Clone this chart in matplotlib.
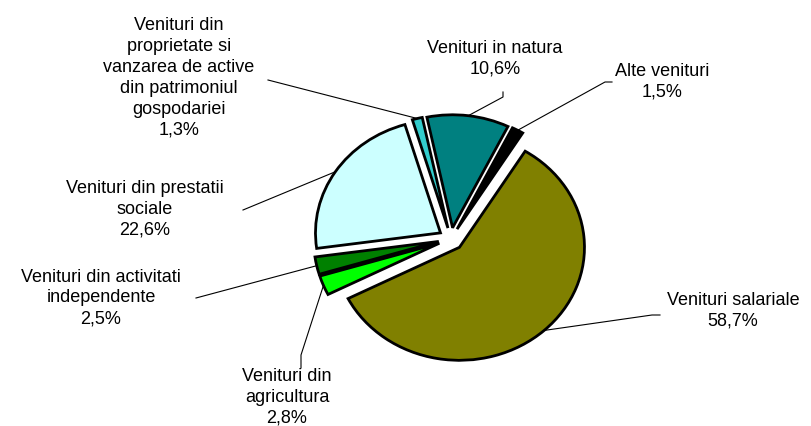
import matplotlib.pyplot as plt
import numpy as np

plt.rcParams["font.family"] = ["Liberation Sans", "DejaVu Sans"]

#
# Data
#

categories = [
    "Venituri salariale",
    "Venituri din\nagricultura",
    "Venituri din activitati\nindependente",
    "Venituri din prestatii\nsociale",
    "Venituri din\nproprietate si\nvanzarea de active\ndin patrimoniul\ngospodariei",
    "Venituri in natura",
    "Alte venituri",
]
shares = [58.7, 2.8, 2.5, 22.6, 1.3, 10.6, 1.5]
colors = ["#808000", "#00FF00", "#008000", "#CCFFFF", "#33CCCC", "#008080", "#000000"]

# label centre (pixels), leader anchor and elbow (pixels)
label_pos = [(733, 311), (287, 397), (101, 298), (145, 209), (179, 78), (495, 59), (662, 82)]
leader_start = [(660, 315), (301, 368), (196, 298), (243, 210), (268, 80), (503, 92), (612, 82)]
leader_elbow = [(652, 315), (301, 355), (196, 298), (243, 210), (268, 80), (503, 97), (605, 82)]

#
# Geometry (pixels of the output image)
#

W, H = 812, 426
cx, cy = 451, 239
rx, ry = 125, 113


def px_to_data(p):
    return ((p[0] - cx) / rx, (cy - p[1]) / ry)


#
# Graph
#

fig = plt.figure(figsize=(W / 100, H / 100), dpi=100)
ax = fig.add_axes([0, 0, 1, 1])

wedges, _ = ax.pie(
    shares,
    colors=colors,
    explode=[0.1] * len(shares),
    startangle=58.3,
    counterclock=False,
    radius=1.0,
    wedgeprops=dict(edgecolor="black", linewidth=2.0),
)

ax.set_aspect("auto")
ax.set_xlim(-cx / rx, (W - cx) / rx)
ax.set_ylim(-(H - cy) / ry, cy / ry)
ax.axis("off")

for wedge, name, share, pos, start, elbow in zip(wedges, categories, shares, label_pos, leader_start, leader_elbow):
    lx, ly = px_to_data(pos)
    ax.text(lx, ly, f"{name}\n{share:.1f}%".replace(".", ","), ha="center", va="center",
            fontsize=13, linespacing=1.3, color="black")
    mid = np.deg2rad((wedge.theta1 + wedge.theta2) / 2)
    ex, ey = wedge.center[0] + wedge.r * np.cos(mid), wedge.center[1] + wedge.r * np.sin(mid)
    sx, sy = px_to_data(start)
    bx, by = px_to_data(elbow)
    ax.plot([sx, bx, ex], [sy, by, ey], color="black", linewidth=0.8)

fig.savefig("out.png", dpi=100, facecolor="white")
